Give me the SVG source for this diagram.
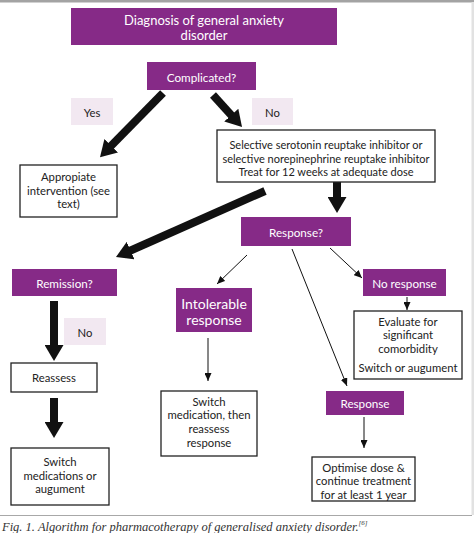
<svg xmlns="http://www.w3.org/2000/svg" width="474" height="533" viewBox="0 0 474 533">
<style>
.p{fill:#862a87}
.k{fill:#f2e8f1}
.w{fill:#fff;stroke:#222;stroke-width:1.3}
text{font-family:Lato,"Liberation Sans",sans-serif;text-anchor:middle;dominant-baseline:central}
.t{fill:#fff;font-size:11.7px}
.b{fill:#222;font-size:11.3px}
.s{fill:#222;font-size:11px}
.thick{stroke:#111;stroke-width:8;fill:none}
.thin{stroke:#111;stroke-width:1;fill:none}
</style>
<defs>
<marker id="ah" markerUnits="userSpaceOnUse" markerWidth="17" markerHeight="19" refX="6" refY="9.5" orient="auto" viewBox="0 0 17 19">
<path d="M0,0 L16,9.5 L0,19 z" fill="#111"/>
</marker>
<marker id="as" markerUnits="userSpaceOnUse" markerWidth="8" markerHeight="7" refX="8" refY="3.5" orient="auto" viewBox="0 0 8 7">
<path d="M0,0 L8,3.5 L0,7 z" fill="#111"/>
</marker>
</defs>
<rect x="0" y="0" width="474" height="533" fill="#fff"/>
<rect x="0" y="0" width="474" height="2.5" fill="#a3a3a3"/>
<rect x="471.5" y="2" width="2.5" height="513" fill="#e2e2e2"/>
<line x1="0" y1="515.5" x2="472" y2="515.5" stroke="#a8a8a8" stroke-width="1"/>

<g id="connectors">
<line class="thick" x1="163" y1="93" x2="107" y2="150" marker-end="url(#ah)"/>
<line class="thick" x1="213" y1="95" x2="235.3" y2="119.6" marker-end="url(#ah)"/>
<line class="thick" x1="337" y1="182" x2="337" y2="203" marker-end="url(#ah)"/>
<line class="thick" x1="265" y1="191" x2="125.1" y2="253" marker-end="url(#ah)"/>
<line class="thick" x1="54" y1="301" x2="54" y2="351" marker-end="url(#ah)"/>
<line class="thick" x1="54" y1="398" x2="54" y2="428" marker-end="url(#ah)"/>
<line class="thin" x1="247" y1="255" x2="217" y2="284" marker-end="url(#as)"/>
<line class="thin" x1="292" y1="249" x2="347" y2="386" marker-end="url(#as)"/>
<line class="thin" x1="330" y1="248" x2="362" y2="278" marker-end="url(#as)"/>
<line class="thin" x1="407" y1="297" x2="407" y2="310" marker-end="url(#as)"/>
<line class="thin" x1="208" y1="338" x2="208" y2="381" marker-end="url(#as)"/>
<line class="thin" x1="364" y1="417" x2="364" y2="448" marker-end="url(#as)"/>
</g>

<g id="diagnosis">
<rect class="p" x="71" y="8" width="266" height="37"/>
<text class="t" x="204" y="20" style="font-size:13px">Diagnosis of general anxiety</text>
<text class="t" x="204" y="34.5" style="font-size:13px">disorder</text>
</g>
<g id="complicated">
<rect class="p" x="147" y="62" width="109" height="28"/>
<text class="t" x="201.5" y="76.5">Complicated?</text>
</g>
<g id="yes">
<rect class="k" x="71" y="98" width="42" height="27"/>
<text class="b" x="92" y="112">Yes</text>
</g>
<g id="no1">
<rect class="k" x="252" y="98" width="41" height="27"/>
<text class="b" x="272.5" y="112">No</text>
</g>
<g id="ssri">
<rect class="w" x="217" y="130" width="218" height="52"/>
<text class="s" x="326" y="144">Selective serotonin reuptake inhibitor or</text>
<text class="s" x="326" y="158">selective norepinephrine reuptake inhibitor</text>
<text class="s" x="326" y="171.5">Treat for 12 weeks at adequate dose</text>
</g>
<g id="appropiate">
<rect class="w" x="20" y="165" width="97" height="52"/>
<text class="b" x="68.5" y="176">Appropiate</text>
<text class="b" x="68.5" y="190">intervention (see</text>
<text class="b" x="68.5" y="203.5">text)</text>
</g>
<g id="response-q">
<rect class="p" x="241" y="217" width="110" height="29"/>
<text class="t" x="296" y="231.5">Response?</text>
</g>
<g id="remission">
<rect class="p" x="12" y="269" width="105" height="27"/>
<text class="t" x="64.5" y="282.5">Remission?</text>
</g>
<g id="intolerable">
<rect class="p" x="176" y="288" width="76" height="44"/>
<text class="t" x="214" y="303" style="font-size:14px">Intolerable</text>
<text class="t" x="214" y="319" style="font-size:14px">response</text>
</g>
<g id="no-response">
<rect class="p" x="363" y="269" width="83" height="27"/>
<text class="t" x="404.5" y="282.5">No response</text>
</g>
<g id="evaluate">
<rect class="w" x="354" y="311" width="108" height="68"/>
<text class="b" x="408" y="321">Evaluate for</text>
<text class="b" x="408" y="334.5">significant</text>
<text class="b" x="408" y="348.5">comorbidity</text>
<text class="b" x="408" y="367.5">Switch or augument</text>
</g>
<g id="no2">
<rect class="k" x="64" y="318" width="42" height="27"/>
<text class="b" x="85" y="332">No</text>
</g>
<g id="reassess">
<rect class="w" x="11" y="363" width="86" height="29"/>
<text class="b" x="54" y="377">Reassess</text>
</g>
<g id="switch-med">
<rect class="w" x="161" y="391" width="96" height="65"/>
<text class="b" x="209" y="401">Switch</text>
<text class="b" x="209" y="414.5">medication, then</text>
<text class="b" x="209" y="428">reassess</text>
<text class="b" x="209" y="442">response</text>
</g>
<g id="response">
<rect class="p" x="326" y="391" width="78" height="24"/>
<text class="t" x="365" y="403">Response</text>
</g>
<g id="switch-meds">
<rect class="w" x="11" y="448" width="98" height="57"/>
<text class="b" x="60" y="461">Switch</text>
<text class="b" x="60" y="475">medications or</text>
<text class="b" x="60" y="488.5">augument</text>
</g>
<g id="optimise">
<rect class="w" x="312" y="457" width="103" height="44"/>
<text class="b" x="363.5" y="467">Optimise dose &amp;</text>
<text class="b" x="363.5" y="480.5">continue treatment</text>
<text class="b" x="363.5" y="494">for at least 1 year</text>
</g>
<text x="2" y="527" style="font-family:'Liberation Serif',serif;font-style:italic;font-size:12.5px;text-anchor:start;fill:#333">Fig. 1. Algorithm for pharmacotherapy of generalised anxiety disorder.<tspan dy="-4" style="font-size:7px">[6]</tspan></text>
</svg>
